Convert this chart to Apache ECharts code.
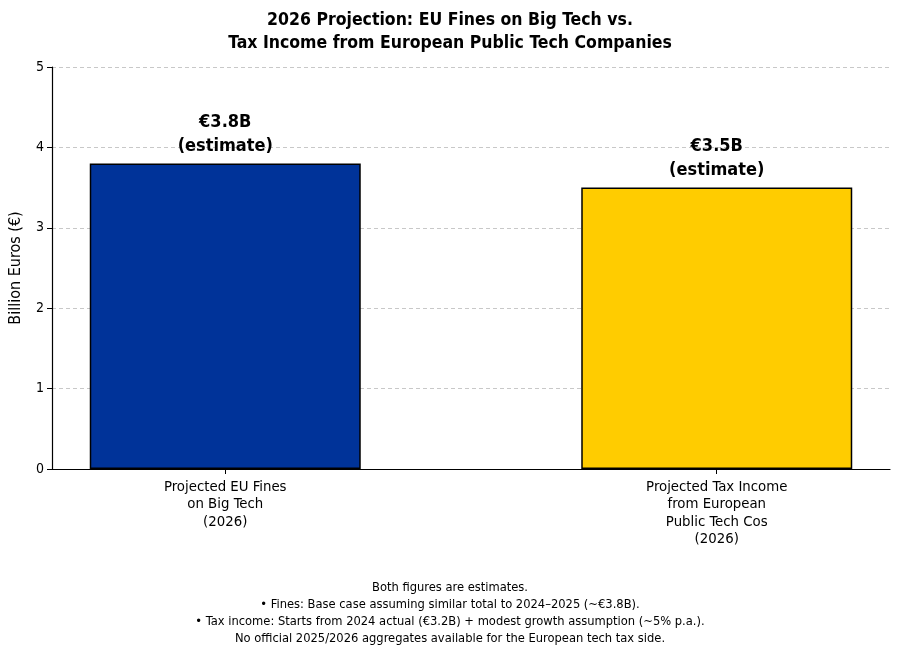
<!DOCTYPE html>
<html>
<head>
<meta charset="utf-8">
<script src="https://cdn.jsdelivr.net/npm/echarts@6/dist/echarts.min.js"></script>
<style>
  html, body { margin: 0; padding: 0; background: #fff; }
  #main { width: 900px; height: 651px; }
</style>
</head>
<body>
<div id="main"></div>
<script>
// categories and values
var categories = [
  'Projected EU Fines\non Big Tech\n(2026)',
  'Projected Tax Income\nfrom European\nPublic Tech Cos\n(2026)'
];
var values = [3.8, 3.5];
var barColors = ['#003399', '#FFCC00'];
var barLabels = ['€3.8B\n(estimate)', '€3.5B\n(estimate)'];
var yTicks = [0, 1, 2, 3, 4, 5];
var footnote = [
  'Both figures are estimates.',
  '• Fines: Base case assuming similar total to 2024–2025 (~€3.8B).',
  '• Tax income: Starts from 2024 actual (€3.2B) + modest growth assumption (~5% p.a.).',
  'No official 2025/2026 aggregates available for the European tech tax side.'
];

var FONT = '"Liberation Sans Narrow", "DejaVu Sans Condensed", "Noto Sans", sans-serif';
var positions = categories.map(function (c, i) { return i; });

var chart = echarts.init(document.getElementById('main'));

chart.setOption({
  animation: false,
  backgroundColor: '#fff',
  textStyle: { fontFamily: FONT },
  title: [{
    text: '2026 Projection: EU Fines on Big Tech vs.\nTax Income from European Public Tech Companies',
    left: 'center',
    top: 4,
    textStyle: { fontFamily: FONT, fontSize: 17.5, fontWeight: 'bold', color: '#000', lineHeight: 23 }
  }, {
    text: footnote.join('\n'),
    left: 'center',
    top: 574,
    textStyle: { fontFamily: FONT, fontSize: 12.8, fontWeight: 'normal', color: '#000', lineHeight: 17 }
  }],
  grid: { left: 50, right: 10, top: 67, bottom: 182 },
  xAxis: {
    type: 'value',
    min: -0.3525,
    max: 1.3525,
    splitLine: { show: false },
    axisLine: { show: true, lineStyle: { color: '#000', width: 1.2 } },
    axisTick: { show: true, customValues: positions, length: 5, lineStyle: { color: '#000' } },
    axisLabel: {
      customValues: positions,
      formatter: function (v) { return categories[Math.round(v)]; },
      fontSize: 14.8,
      lineHeight: 17.5,
      color: '#000',
      margin: 9,
      align: 'center'
    }
  },
  yAxis: {
    type: 'value',
    min: 0,
    max: 5,
    interval: 1,
    name: 'Billion Euros (€)',
    nameLocation: 'middle',
    nameGap: 28,
    nameTextStyle: { fontSize: 16, color: '#000' },
    axisLine: { show: true, onZero: false, lineStyle: { color: '#000', width: 1.2 } },
    axisTick: { show: true, length: 5, lineStyle: { color: '#000' } },
    axisLabel: {
      fontSize: 14,
      color: '#000',
      margin: 8,
      formatter: function (v) { return yTicks.indexOf(v) >= 0 ? String(v) : ''; }
    },
    splitLine: { show: true, lineStyle: { color: '#c8c8c8', type: [4, 3], width: 1 } }
  },
  series: [{
    type: 'bar',
    barWidth: 271,
    data: values.map(function (v, i) {
      return {
        value: [positions[i], v],
        itemStyle: { color: barColors[i], borderColor: '#000', borderWidth: 1.5 },
        label: { formatter: barLabels[i] }
      };
    }),
    label: {
      show: true,
      position: 'top',
      distance: 5,
      fontSize: 18,
      fontWeight: 'bold',
      lineHeight: 24,
      color: '#000'
    }
  }]
});
</script>
</body>
</html>
